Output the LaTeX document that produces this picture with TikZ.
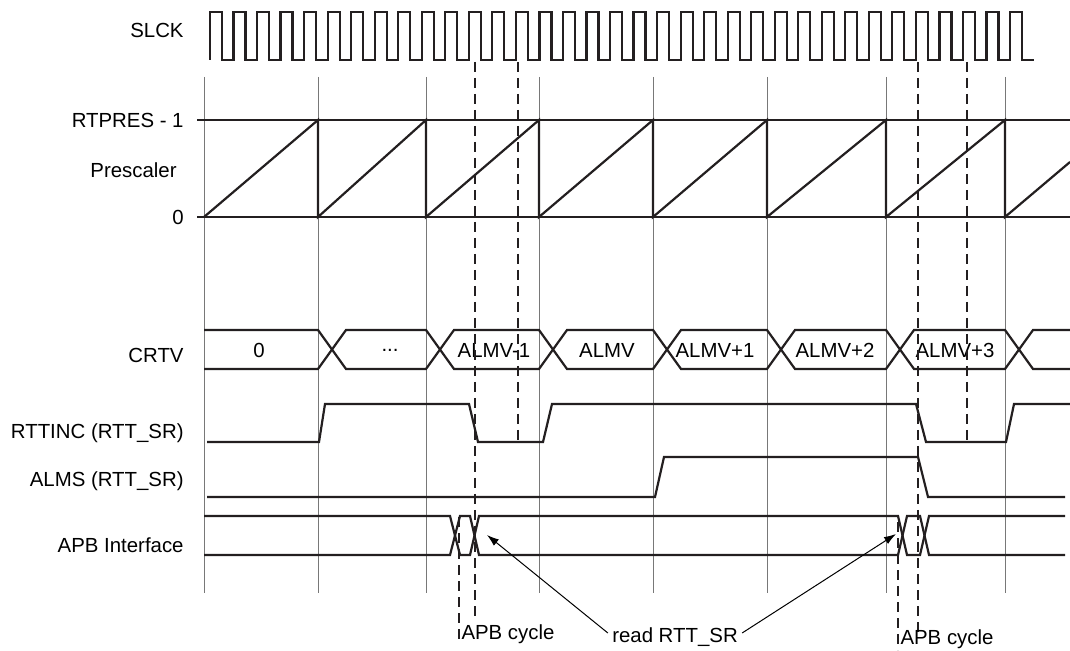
\documentclass[tikz,border=0pt]{standalone}
\usepackage{fontspec}
\setmainfont{Liberation Sans}
\usetikzlibrary{arrows.meta}
\definecolor{sigK}{RGB}{35,31,32}
\definecolor{gridG}{RGB}{120,120,120}

\tikzset{
  sig/.style={line width=1.1pt, sigK},
  gridln/.style={line width=0.5pt, gridG},
  level/.style={line width=0.55pt, sigK},
  cut/.style={line width=0.6pt, sigK, dash pattern=on 5pt off 3pt},
  lbl/.style={anchor=east, inner sep=0pt},
  ptr/.style={line width=0.5pt, -{Latex[length=6pt,width=4pt]}},
}

\begin{document}
\begin{tikzpicture}[x=0.5pt,y=-0.5pt,font=\fontsize{10.2}{12}\selectfont]
  \useasboundingbox (0,0) rectangle (1070,651);
  % signal names, right aligned
  \node[lbl] (nSlck) at (184,30) {SLCK};
  \node[lbl] (nTop) at (184,120) {RTPRES - 1};
  \node[lbl] (nPres) at (177,170) {Prescaler};
  \node[lbl] (nZero) at (184,217) {0};
  \node[lbl] (nCrtv) at (184,355) {CRTV};
  \node[lbl] (nInc) at (184,433) {RTTINC (RTT\_SR)};
  \node[lbl] (nAlms) at (184,481) {ALMS (RTT\_SR)};
  \node[lbl] (nApb) at (184,545) {APB Interface};

  % prescaler period grid
  \foreach \gx in {204,318,426,539,653,767,886,1005}
    \draw[gridln] (\gx,77) -- (\gx,593);

  % slow clock
  \draw[sig] (210,60) \foreach \k in {0,...,34} { -- ++(0,-48) -- ++(12,0) -- ++(0,48) -- ++(11.53,0) };

  % prescaler levels and ramp
  \draw[level] (197,120) -- (1070,120);
  \draw[level] (197,217) -- (1070,217);
  \draw[sig] (204,217) \foreach \gx in {318,426,539,653,767,886,1005} { -- (\gx,120) -- (\gx,217) } -- (1070,162);

  % CRTV bus
  \draw[sig] (204,330) -- (318,330) -- (346,369) -- (426,369) -- (454,330) -- (539,330) -- (567,369) -- (653,369)
    -- (681,330) -- (767,330) -- (795,369) -- (886,369) -- (914,330) -- (1005,330) -- (1033,369) -- (1070,369);
  \draw[sig] (204,369) -- (318,369) -- (346,330) -- (426,330) -- (454,369) -- (539,369) -- (567,330) -- (653,330)
    -- (681,369) -- (767,369) -- (795,330) -- (886,330) -- (914,369) -- (1005,369) -- (1033,330) -- (1070,330);
  \node (v0) at (259,350) {0};
  \node (v1) at (390,350) {...};
  \node (v2) at (494,350) {ALMV-1};
  \node (v3) at (607,350) {ALMV};
  \node (v4) at (715,350) {ALMV+1};
  \node (v5) at (835,350) {ALMV+2};
  \node (v6) at (955,350) {ALMV+3};

  % RTTINC and ALMS
  \draw[sig] (207,442) -- (319,442) -- (325,404) -- (469,404) -- (478,442) -- (543,442) -- (552,404)
    -- (916,404) -- (926,442) -- (1006,442) -- (1014,404) -- (1070,404);
  \draw[sig] (207,497) -- (655,497) -- (664,457) -- (918,457) -- (928,497) -- (1065,497);

  % APB bus
  \draw[sig] (204,516) -- (450,516) -- (460,555) -- (470,555) -- (479,516) -- (898,516) -- (907,555) -- (920,555) -- (929,516) -- (1065,516);
  \draw[sig] (204,555) -- (450,555) -- (460,516) -- (470,516) -- (479,555) -- (898,555) -- (907,516) -- (920,516) -- (929,555) -- (1065,555);

  % sampling marks
  \draw[cut] (459,517) -- (459,640);
  \draw[cut] (475,62) -- (475,618);
  \draw[cut] (518,62) -- (518,442);
  \draw[cut] (898,522) -- (898,650);
  \draw[cut] (918,62) -- (918,632);
  \draw[cut] (967,62) -- (967,442);

  % notes
  \node (cycA) at (508,634) {APB cycle};
  \node[inner sep=2pt] (rd) at (675,637) {read RTT\_SR};
  \node (cycB) at (947,639) {APB cycle};
  \coordinate (tipA) at (487,535);
  \coordinate (tipB) at (896,534);
  \draw[ptr] ([yshift=2pt]rd.west) -- (tipA);
  \draw[ptr] ([yshift=2pt]rd.east) -- (tipB);
\end{tikzpicture}
\end{document}
